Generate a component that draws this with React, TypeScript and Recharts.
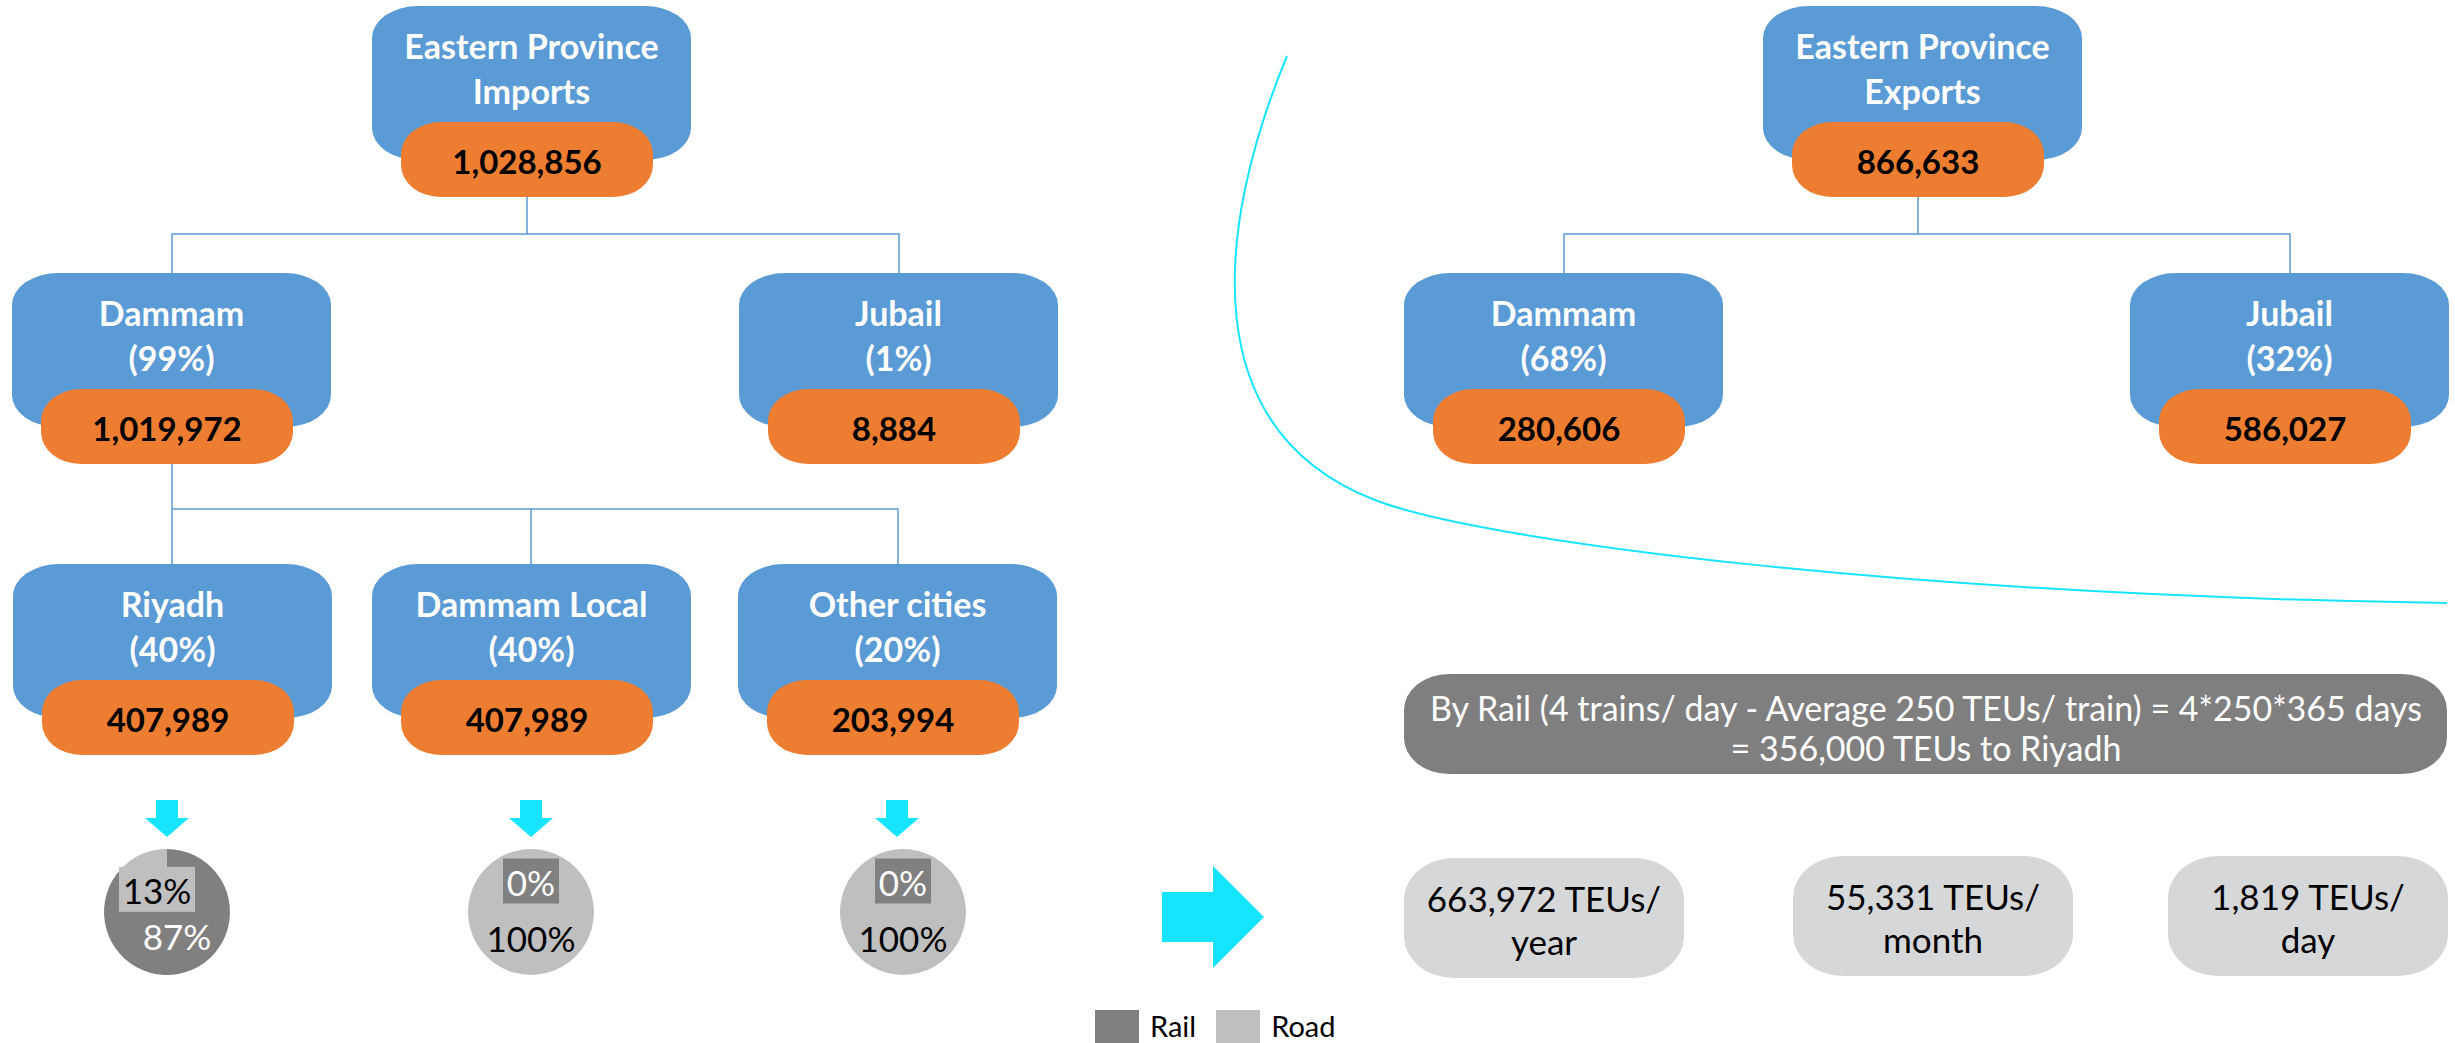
import React from 'react';
import { PieChart, Pie, Cell, Legend } from 'recharts';

// modal split legend
const modes = ['Rail', 'Road'];
const modeColors = ['#808080', '#bfbfbf'];

// imports tree
const importTitle = ['Eastern Province', 'Imports'];
const importTotal = 1028856;
const ports = ['Dammam', 'Jubail'];
const importPortShares = [99, 1];
const importPortValues = [1019972, 8884];

// Dammam imports by destination
const destinations = ['Riyadh', 'Dammam Local', 'Other cities'];
const destinationShares = [40, 40, 20];
const destinationValues = [407989, 407989, 203994];
const railSplit = [87, 0, 0];
const roadSplit = [13, 100, 100];

// exports tree
const exportTitle = ['Eastern Province', 'Exports'];
const exportTotal = 866633;
const exportPortShares = [68, 32];
const exportPortValues = [280606, 586027];

// rail notes
const railNote = [
  'By Rail (4 trains/ day - Average 250 TEUs/ train) = 4*250*365 days',
  '= 356,000 TEUs to Riyadh',
];
const throughputValues = [663972, 55331, 1819];
const throughputUnits = ['year', 'month', 'day'];

const W = 2455;
const H = 1043;
const BLUE = '#5b9bd5';
const ORANGE = '#ed7d31';
const CYAN = '#17e4ff';
const FONT = 'Lato, "Open Sans", sans-serif';
const BOX_W = 319;
const BOX_H = 154;
const PILL_W = 252;
const PILL_H = 75;

const fmt = (n: number) => n.toLocaleString('en-US');

function Node({ x, y, lines, value }: { x: number; y: number; lines: string[]; value: number }) {
  return (
    <g>
      <rect x={x} y={y} width={BOX_W} height={BOX_H} rx={46} ry={32} fill={BLUE} />
      {lines.map((t, i) => (
        <text key={i} x={x + BOX_W / 2} y={y + 39 + i * 45} textAnchor="middle" dominantBaseline="central"
          fill="#fff" fontSize={34} fontWeight="bold" fontFamily={FONT}>{t}</text>
      ))}
      <rect x={x + 29} y={y + 116} width={PILL_W} height={PILL_H} rx={40} ry={32} fill={ORANGE} />
      <text x={x + 29 + PILL_W / 2} y={y + 116 + 39} textAnchor="middle" dominantBaseline="central"
        fill="#000" fontSize={33} fontWeight="bold" fontFamily={FONT}>{fmt(value)}</text>
    </g>
  );
}

function DownArrow({ cx, y }: { cx: number; y: number }) {
  const pts = [
    [cx - 11, y], [cx + 11, y], [cx + 11, y + 18], [cx + 22, y + 18],
    [cx, y + 37], [cx - 22, y + 18], [cx - 11, y + 18],
  ];
  return <polygon points={pts.map((p) => p.join(',')).join(' ')} fill={CYAN} />;
}

const RAD = Math.PI / 180;
const renderModeLabel = (props: any) => {
  const { cx, cy, midAngle, outerRadius, value, index } = props;
  const r = outerRadius * (value === 0 ? 0.5 : 0.4);
  const x = cx + r * Math.cos(-midAngle * RAD);
  const y = cy + r * Math.sin(-midAngle * RAD);
  const label = `${value}%`;
  const w = label.length * 20 + 16;
  return (
    <g>
      {value < 50 && <rect x={x - w / 2} y={y - 22} width={w} height={45} fill={modeColors[index]} />}
      <text x={x} y={y + 1} textAnchor="middle" dominantBaseline="central" fontSize={35}
        fontFamily={FONT} fill={index === 0 ? '#fff' : '#000'}>{label}</text>
    </g>
  );
};

const renderLegend = (props: any) => {
  const names: string[] = [];
  (props.payload || []).forEach((p: any) => {
    if (!names.includes(p.value)) names.push(p.value);
  });
  return (
    <div style={{ display: 'flex', alignItems: 'flex-start', fontFamily: FONT, fontSize: 29 }}>
      {names.map((n) => (
        <div key={n} style={{ display: 'flex', alignItems: 'flex-start', marginRight: 20 }}>
          <span style={{ width: 44, height: 44, background: modeColors[modes.indexOf(n)], marginRight: 11 }} />
          <span style={{ lineHeight: '32px' }}>{n}</span>
        </div>
      ))}
    </div>
  );
};

const pieX = [167, 531, 903];
const arrowX = [167, 531, 897];
const destX = [13, 372, 738];
const boxX = [1404, 1793, 2168];

export default function App() {
  return (
    <div style={{ position: 'relative', width: W, height: H, background: '#fff', overflow: 'hidden' }}>
      <style>{'body{margin:0}'}</style>
      <svg width={W} height={H} style={{ position: 'absolute', left: 0, top: 0 }}>
        {/* connectors */}
        <g stroke={BLUE} strokeWidth={1.5} fill="none">
          <path d="M527,197 V234 M172,273 V234 H899 V273" />
          <path d="M172,464 V509 M172,564 V509 H898 V564 M531,509 V564" />
          <path d="M1918,197 V234 M1564,273 V234 H2290 V273" />
        </g>
        <Node x={372} y={6} lines={importTitle} value={importTotal} />
        <Node x={12} y={273} lines={[ports[0], `(${importPortShares[0]}%)`]} value={importPortValues[0]} />
        <Node x={739} y={273} lines={[ports[1], `(${importPortShares[1]}%)`]} value={importPortValues[1]} />
        {destinations.map((d, i) => (
          <Node key={d} x={destX[i]} y={564} lines={[d, `(${destinationShares[i]}%)`]} value={destinationValues[i]} />
        ))}
        <Node x={1763} y={6} lines={exportTitle} value={exportTotal} />
        <Node x={1404} y={273} lines={[ports[0], `(${exportPortShares[0]}%)`]} value={exportPortValues[0]} />
        <Node x={2130} y={273} lines={[ports[1], `(${exportPortShares[1]}%)`]} value={exportPortValues[1]} />

        {arrowX.map((x) => <DownArrow key={x} cx={x} y={800} />)}

        <path d="M1287,56 C1215,230 1195,430 1375,500 C1480,541 1900,595 2447,603" stroke={CYAN} strokeWidth={2} fill="none" />

        <polygon points="1162,892 1213,892 1213,866 1264,917 1213,968 1213,942 1162,942" fill={CYAN} />

        <rect x={1404} y={674} width={1043} height={100} rx={45} ry={36} fill="#7f7f7f" />
        {railNote.map((t, i) => (
          <text key={i} x={1926} y={707 + i * 40} textAnchor="middle" dominantBaseline="central"
            fill="#fff" fontSize={34} fontFamily={FONT}>{t}</text>
        ))}

        {throughputValues.map((v, i) => (
          <g key={i}>
            <rect x={boxX[i]} y={i === 0 ? 858 : 856} width={280} height={120} rx={50} ry={42} fill="#d6d7d9" />
            <text x={boxX[i] + 140} y={(i === 0 ? 858 : 856) + 40} textAnchor="middle" dominantBaseline="central"
              fill="#000" fontSize={35} fontFamily={FONT}>{`${fmt(v)} TEUs/`}</text>
            <text x={boxX[i] + 140} y={(i === 0 ? 858 : 856) + 83} textAnchor="middle" dominantBaseline="central"
              fill="#000" fontSize={35} fontFamily={FONT}>{throughputUnits[i]}</text>
          </g>
        ))}
      </svg>

      <div style={{ position: 'absolute', left: 0, top: 0 }}>
        <PieChart width={W} height={H} margin={{ top: 0, right: 0, bottom: 0, left: 0 }}>
          {destinations.map((d, i) => (
            <Pie
              key={d}
              data={modes.map((m, j) => ({ name: m, value: j === 0 ? railSplit[i] : roadSplit[i] }))}
              dataKey="value"
              nameKey="name"
              cx={pieX[i]}
              cy={912}
              outerRadius={63}
              startAngle={90}
              endAngle={-270}
              stroke="none"
              label={renderModeLabel}
              labelLine={false}
              isAnimationActive={false}
            >
              {modes.map((m, j) => (
                <Cell key={m} fill={modeColors[j]} />
              ))}
            </Pie>
          ))}
          <Legend
            content={renderLegend}
            wrapperStyle={{ position: 'absolute', left: 1095, top: 1010, bottom: 'auto', width: 400 }}
          />
        </PieChart>
      </div>
    </div>
  );
}
